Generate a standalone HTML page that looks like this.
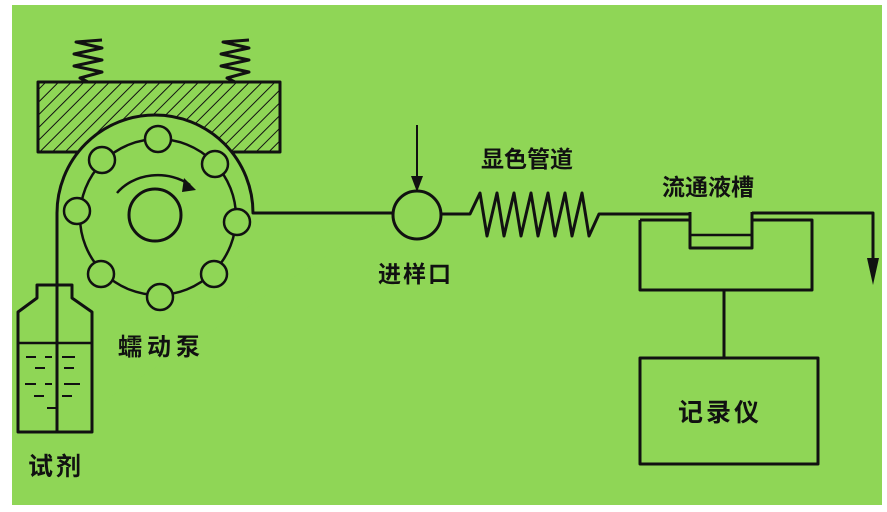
<!DOCTYPE html>
<html><head><meta charset="utf-8"><style>
html,body{margin:0;padding:0;background:#fff;}
svg{display:block;}
text{font-family:"Liberation Sans","Noto Sans CJK SC",sans-serif;font-weight:bold;fill:#111;}
</style></head><body>
<svg width="887" height="512" viewBox="0 0 887 512" xmlns="http://www.w3.org/2000/svg">
<defs>
<pattern id="h" width="9" height="9" patternUnits="userSpaceOnUse" patternTransform="rotate(45)">
<rect width="9" height="9" fill="#8fd656"/><line x1="0" y1="0" x2="0" y2="9" stroke="#111" stroke-width="2"/>
</pattern>
</defs>
<rect x="12" y="5" width="870" height="500" fill="#8fd656"/>
<g fill="none" stroke="#111" stroke-width="3" stroke-linejoin="round">
<polyline points="88,82 80,78 102,72 74,66 102,60 74,54 102,48 76,42 102,40"/>
<polyline points="235,82 227,78 249,72 221,66 249,60 221,54 249,48 223,42 249,40"/>
<rect x="38" y="82" width="242" height="70" fill="url(#h)"/>
<path d="M57,432 L57,213 A98,98 0 0 1 253,213 L392,213" fill="#8fd656"/>
<path d="M253,213 L392,213"/>
<circle cx="158" cy="217" r="78" stroke-width="2.5"/>
<circle cx="155" cy="215" r="26"/>
<g fill="#8fd656" stroke-width="2.5">
<circle cx="158" cy="139" r="13"/><circle cx="215" cy="164" r="13"/>
<circle cx="237" cy="222" r="13"/><circle cx="214" cy="274" r="13"/>
<circle cx="160" cy="297" r="13"/><circle cx="101" cy="274" r="13"/>
<circle cx="77" cy="211" r="13"/><circle cx="102" cy="160" r="13"/>
</g>
<path d="M117,193 A50,42 0 0 1 190,185" stroke-width="2.5"/>
<path d="M18,432 L18,312 L37,298 L37,285 L72,285 L72,298 L92,312 L92,432 Z"/>
<line x1="18" y1="343" x2="92" y2="343" stroke-width="2.5"/>
<g stroke-width="2">
<line x1="26" y1="357" x2="36" y2="357"/><line x1="45" y1="357" x2="52" y2="357"/><line x1="62" y1="357" x2="75" y2="357"/>
<line x1="35" y1="368" x2="45" y2="368"/><line x1="64" y1="368" x2="74" y2="368"/>
<line x1="25" y1="384" x2="36" y2="384"/><line x1="45" y1="384" x2="52" y2="384"/><line x1="64" y1="384" x2="80" y2="384"/>
<line x1="34" y1="396" x2="44" y2="396"/><line x1="62" y1="396" x2="72" y2="396"/>
<line x1="47" y1="408" x2="56" y2="408"/>
</g>
<circle cx="417" cy="215" r="24"/>
<line x1="417" y1="125" x2="417" y2="180" stroke-width="2"/>
<polyline points="441,214 470,214 480,193 487,236 497,193 504,236 514,193 521,236 531,193 538,236 548,193 555,236 565,193 572,236 582,193 589,236 599,214 640,214 690,214"/>
<polyline points="640,220 640,290 812,290 812,220 752,220"/>
<line x1="640" y1="220" x2="690" y2="220"/>
<polyline points="690,212 690,248 752,248 752,212"/>
<line x1="690" y1="235" x2="752" y2="235" stroke-width="2.5"/>
<polyline points="752,213 873,213 873,262"/>
<line x1="724" y1="290" x2="724" y2="358"/>
<rect x="640" y="358" width="178" height="106"/>
</g>
<polygon points="411,176 423,176 417,192" fill="#111"/>
<polygon points="184,178 196,190 182,192" fill="#111"/>
<polygon points="867,258 879,258 873,285" fill="#111"/>
<text x="118" y="355" font-size="24" letter-spacing="5">蠕动泵</text>
<text x="28" y="475" font-size="25" letter-spacing="3">试剂</text>
<text x="378" y="282" font-size="23" letter-spacing="2">进样口</text>
<text x="481" y="167" font-size="23">显色管道</text>
<text x="662" y="195" font-size="23">流通液槽</text>
<text x="678" y="421" font-size="25" letter-spacing="3">记录仪</text>
</svg>
</body></html>
